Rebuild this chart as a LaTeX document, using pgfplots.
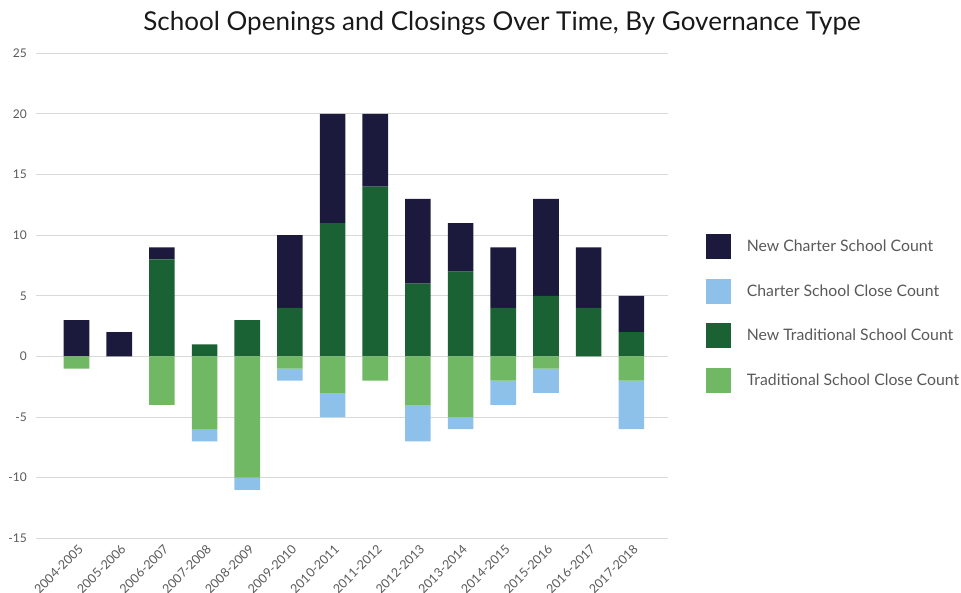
\documentclass[border=0pt]{standalone}
\usepackage{fontspec}
\setmainfont{Lato}
\usepackage{pgfplots}
\usepackage{pgfplotstable}
\pgfplotsset{compat=1.18}

\definecolor{newcharter}{HTML}{1B1A3D}
\definecolor{charterclose}{HTML}{8DC1E9}
\definecolor{newtrad}{HTML}{1A6133}
\definecolor{tradclose}{HTML}{71B864}
\definecolor{txtgray}{HTML}{595959}

% openings, stacked upwards
\pgfplotstableread{
x newtrad newcharter
0 0 3
1 0 2
2 8 1
3 1 0
4 3 0
5 4 6
6 11 9
7 14 6
8 6 7
9 7 4
10 4 5
11 5 8
12 4 5
13 2 3
}\openings

% closings, stacked downwards
\pgfplotstableread{
x tradclose charterclose
0 -1 0
1 0 0
2 -4 0
3 -6 -1
4 -10 -1
5 -1 -1
6 -3 -2
7 -2 0
8 -4 -3
9 -5 -1
10 -2 -2
11 -1 -2
12 0 0
13 -2 -4
}\closings

\pgfplotsset{
  base/.style={
    at={(36pt,53.7pt)}, anchor=south west,
    scale only axis, width=632pt, height=485pt,
    xmin=-0.95, xmax=13.86, ymin=-15, ymax=25,
    ybar stacked, bar width=25.6pt,
    every axis plot/.append style={draw=none},
  }
}

\begin{document}
\begin{tikzpicture}
\path[use as bounding box] (0,0) rectangle (961pt,592pt);
\node[font=\fontsize{26}{30}\selectfont, text=black!90] at (502pt,569pt)
  {School Openings and Closings Over Time, By Governance Type};

\begin{axis}[base,
  axis line style={draw=none}, tick style={draw=none}, major tick length=0pt,
  ymajorgrids, grid style={black!15, line width=1pt},
  ytick={-15,-10,...,25},
  xtick={0,...,13},
  xticklabels={2004-2005,2005-2006,2006-2007,2007-2008,2008-2009,2009-2010,2010-2011,2011-2012,2012-2013,2013-2014,2014-2015,2015-2016,2016-2017,2017-2018},
  /pgf/number format/assume math mode=true,
  yticklabel style={font=\fontsize{12}{14}\selectfont, text=txtgray, inner sep=0pt, xshift=-9pt},
  xticklabel style={font=\fontsize{12.5}{14}\selectfont, text=txtgray, yshift=-5pt, xshift=1pt, rotate=45, anchor=north east, inner sep=0pt},
  legend style={at={(1.06,0.627)}, anchor=north west, draw=none, fill=none, inner sep=0pt,
    row sep=19.5pt, nodes={inner sep=0pt, text=txtgray, font=\fontsize{15.8}{18}\selectfont},
    /tikz/every odd column/.append style={column sep=15.7pt}},
  legend cell align=left,
  legend image code/.code={\fill[#1] (0pt,-12.5pt) rectangle (25pt,12.5pt);},
]
\addplot[fill=newtrad, forget plot] table[x=x, y=newtrad] {\openings};
\addplot[fill=newcharter, forget plot] table[x=x, y=newcharter] {\openings};
\addlegendimage{newcharter}\addlegendentry{New Charter School Count}
\addlegendimage{charterclose}\addlegendentry{Charter School Close Count}
\addlegendimage{newtrad}\addlegendentry{New Traditional School Count}
\addlegendimage{tradclose}\addlegendentry{Traditional School Close Count}
\end{axis}

\begin{axis}[base, hide axis]
\addplot[fill=tradclose] table[x=x, y=tradclose] {\closings};
\addplot[fill=charterclose] table[x=x, y=charterclose] {\closings};
\end{axis}
\end{tikzpicture}
\end{document}
